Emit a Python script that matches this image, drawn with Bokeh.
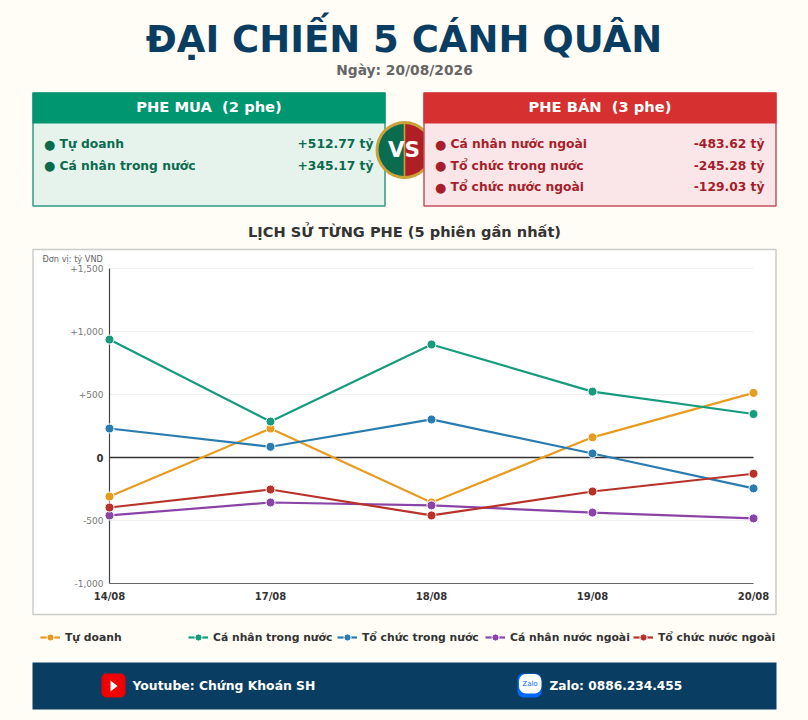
from bokeh.core.properties import value
from bokeh.embed import file_html
from bokeh.resources import INLINE
from bokeh.plotting import figure
from bokeh.models import Range1d, FixedTicker, Legend, LegendItem

dates = ["14/08", "17/08", "18/08", "19/08", "20/08"]
series_names = ["Tự doanh", "Cá nhân trong nước", "Tổ chức trong nước", "Cá nhân nước ngoài", "Tổ chức nước ngoài"]
tu_doanh = [-310, 230, -357, 160, 512.77]
ca_nhan_tn = [936, 285, 897, 523, 345.17]
to_chuc_tn = [230, 85, 302, 32, -245.28]
ca_nhan_nn = [-460, -357, -380, -437, -483.62]
to_chuc_nn = [-397, -254, -460, -270, -129.03]
series_values = [tu_doanh, ca_nhan_tn, to_chuc_tn, ca_nhan_nn, to_chuc_nn]
series_colors = ["#e89c1f", "#169b7c", "#2a7cb0", "#8a44a8", "#b8322a"]
y_ticks = [-1000, -500, 500, 1000, 1500]
y_tick_labels = ["-1,000", "-500", "+500", "+1,000", "+1,500"]
buy_side = [("Tự doanh", "+512.77 tỷ"), ("Cá nhân trong nước", "+345.17 tỷ")]
sell_side = [("Cá nhân nước ngoài", "-483.62 tỷ"), ("Tổ chức trong nước", "-245.28 tỷ"), ("Tổ chức nước ngoài", "-129.03 tỷ")]
legend_x = [40, 188, 337, 485, 633]

W, H = 808, 720
PAGE = "#fffdf6"
NAVY = "#0a3d62"
FONT = "DejaVu Sans"
# pixel geometry of the plot region inside the page
X0, X4 = 109, 753
Y_P, Y_M = 268, 583   # +1500 and -1000
ppx = (X4 - X0) / 4
ppy = (Y_M - Y_P) / 2500
y_zero = Y_M - 1000 * ppy

p = figure(width=W, height=H, output_backend="svg", toolbar_location=None,
           x_range=Range1d(-X0 / ppx, (W - X0) / ppx),
           y_range=Range1d((y_zero - H) / ppy, y_zero / ppy),
           min_border=0)
p.extra_x_ranges["px"] = Range1d(0, W)
p.extra_y_ranges["px"] = Range1d(H, 0)
p.background_fill_color = PAGE
p.border_fill_color = PAGE
p.outline_line_color = None
p.grid.visible = False

PX = dict(x_range_name="px", y_range_name="px")


def box(x0, y0, x1, y1, fill, line=None, lw=0, radius=0):
    p.quad(left=[x0], right=[x1], top=[y0], bottom=[y1], fill_color=fill,
           line_color=line, line_width=lw, border_radius=radius, level="underlay", **PX)


def text(x, y, s, size, color, align="left", style="bold", level="glyph"):
    p.text(x=[x], y=[y], text=[s], text_font=value(FONT), text_font_size=value(f"{size}px"),
           text_font_style=style, text_color=color, text_align=align, text_baseline="middle",
           level=level, **PX)


# header
text(403.5, 39, "ĐẠI CHIẾN 5 CÁNH QUÂN", 37, NAVY, "center")
text(404, 69.5, "Ngày: 20/08/2026", 13.8, "#666666", "center")

# buy panel
box(32.5, 92.5, 384.5, 205.5, "#e6f3ec", "#2f9c86", 1.5)
box(32, 92, 385, 123, "#009670")
text(208.5, 106, "PHE MUA \u00a0(2 phe)", 14.7, "#ffffff", "center")
for i, (n, v) in enumerate(buy_side):
    y = 143.5 + i * 21.5
    text(43.5, y, "●", 13, "#0b6b4f")
    text(59, y, n, 12.3, "#0b6b4f")
    text(373, y, v, 12.3, "#0b6b4f", "right")

# VS badge, partly covered by the sell panel
p.scatter(x=[404], y=[149.5], size=58, marker="circle", fill_color="#c9a23a", line_color=None, level="underlay", **PX)
p.wedge(x=[404], y=[149.5], radius=26, start_angle=1.5708, end_angle=4.7124, fill_color="#0b6b4f",
        line_color=None, level="underlay", **PX)
p.wedge(x=[404], y=[149.5], radius=26, start_angle=4.7124, end_angle=7.854, fill_color="#b01f26",
        line_color=None, level="underlay", **PX)
box(403.2, 123.5, 404.8, 175.5, "#c9a23a")

# sell panel
box(423.5, 92.5, 775.5, 205.5, "#fae6e8", "#c2525c", 1.5)
box(423, 92, 776, 123, "#d63031")
text(599.5, 106, "PHE BÁN \u00a0(3 phe)", 14.7, "#ffffff", "center")
for i, (n, v) in enumerate(sell_side):
    y = 143.5 + i * 21.5
    text(434.5, y, "●", 13, "#a61e2b")
    text(450, y, n, 12.3, "#a61e2b")
    text(764, y, v, 12.3, "#a61e2b", "right")
text(403.5, 149, "VS", 21.5, "#ffffff", "center")

# chart card
text(404, 230.5, "LỊCH SỬ TỪNG PHE (5 phiên gần nhất)", 14.6, "#333333", "center")
box(32.5, 249, 775.5, 614, "#ffffff", "#cccccc", 1.5)
text(42, 258.5, "Đơn vị: tỷ VND", 8.2, "#666666", style="normal")

# footer
box(32, 662, 776, 709, NAVY)
box(101, 673, 125, 697, "#f00000", radius=5)
p.patch(x=[110, 110, 117], y=[680, 691, 685.5], fill_color="#ffffff", line_color=None, level="underlay", **PX)
text(132, 684.5, "Youtube: Chứng Khoán SH", 12.4, "#ffffff")
box(517, 673, 541, 697, "#0068ff", radius=6)
box(518.5, 673.5, 541, 693, "#ffffff", radius=7)
text(529.5, 683, "Zalo", 7, "#0068ff", "center", style="normal")
text(549, 685, "Zalo: 0886.234.455", 12.2, "#ffffff")

# axes
xa, ya = p.xaxis[0], p.yaxis[0]
xa.fixed_location = -1000
ya.fixed_location = 0
xa.bounds = (0, len(dates) - 1)
ya.bounds = (-1000, 1500)
xa.ticker = FixedTicker(ticks=list(range(len(dates))))
xa.major_label_overrides = {i: d for i, d in enumerate(dates)}
xa.major_label_text_font = FONT
xa.major_label_text_font_style = "bold"
xa.major_label_text_font_size = "10px"
xa.major_label_text_color = "#333333"
xa.axis_line_color = "#666666"
xa.axis_line_width = 1.2
xa.major_tick_line_color = None
xa.minor_tick_line_color = None
xa.major_label_standoff = 1
ya.ticker = FixedTicker(ticks=y_ticks)
ya.major_label_overrides = dict(zip(y_ticks, y_tick_labels))
ya.major_label_text_font = FONT
ya.major_label_text_font_size = "9px"
ya.major_label_text_color = "#777777"
ya.axis_line_color = "#444444"
ya.axis_line_width = 1.2
ya.major_tick_line_color = None
ya.minor_tick_line_color = None
ya.major_label_standoff = 0
xa.level = "underlay"
ya.level = "underlay"

# grid and zero line
last = len(dates) - 1
p.segment(x0=[0] * len(y_ticks), x1=[last] * len(y_ticks), y0=y_ticks, y1=y_ticks,
          line_color="#f0f0f0", line_width=1, level="underlay")
p.segment(x0=[0], x1=[last], y0=[0], y1=[0], line_color="#333333", line_width=1.3, level="underlay")
p.text(x=[0], y=[0], text=["0"], x_offset=-6, text_font=value(FONT), text_font_size=value("10px"),
       text_font_style="bold", text_color="#333333", text_align="right", text_baseline="middle")

xs = list(range(len(dates)))
items = []
for name, vals, col in zip(series_names, series_values, series_colors):
    ln = p.line(xs, vals, line_color=col, line_width=2.2)
    sc = p.scatter(xs, vals, marker="circle", size=9, fill_color=col, line_color="#ffffff", line_width=1)
    items.append(LegendItem(label=name, renderers=[ln, sc]))

for it, lx in zip(items, legend_x):
    lg = Legend(items=[it], location=(lx, H - 646), orientation="horizontal",
                margin=0, padding=0, spacing=0, glyph_width=20, glyph_height=18, label_standoff=5,
                label_text_font=FONT, label_text_font_size="10.8px", label_text_font_style="bold",
                label_text_color="#333333", background_fill_alpha=0, border_line_color=None,
                label_height=18)
    p.add_layout(lg)

open("out.html", "w").write(file_html(p, INLINE))
